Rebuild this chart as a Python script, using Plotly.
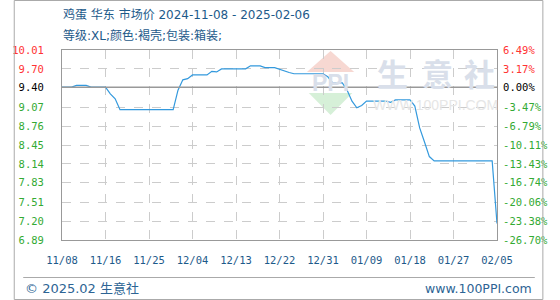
import pandas as pd
import plotly.graph_objects as go

# ---- data ----
dates = ["2024-11-08", "2024-11-10", "2024-11-11", "2024-11-13", "2024-11-14", "2024-11-17",
         "2024-11-18", "2024-11-19", "2024-11-20", "2024-12-01", "2024-12-02", "2024-12-03",
         "2024-12-04", "2024-12-05", "2024-12-08", "2024-12-09", "2024-12-10", "2024-12-11",
         "2024-12-16", "2024-12-17", "2024-12-19", "2024-12-20", "2024-12-22", "2024-12-24",
         "2024-12-25", "2024-12-26", "2025-01-01", "2025-01-02", "2025-01-03", "2025-01-05",
         "2025-01-06", "2025-01-07", "2025-01-08", "2025-01-09", "2025-01-10", "2025-01-14",
         "2025-01-15", "2025-01-16", "2025-01-19", "2025-01-20", "2025-01-21", "2025-01-22",
         "2025-01-23", "2025-01-24", "2025-02-05", "2025-02-06"]
prices = [9.40, 9.40, 9.43, 9.43, 9.40, 9.40,
          9.29, 9.21, 9.03, 9.03, 9.35, 9.52,
          9.54, 9.60, 9.60, 9.66, 9.65, 9.70,
          9.70, 9.75, 9.75, 9.72, 9.72, 9.66,
          9.64, 9.62, 9.62, 9.57, 9.47, 9.47,
          9.35, 9.17, 9.06, 9.10, 9.17, 9.17,
          9.15, 9.19, 9.19, 9.09, 8.73, 8.50,
          8.26, 8.19, 8.19, 7.16]

x_tick_labels = ["11/08", "11/16", "11/25", "12/04", "12/13", "12/22",
                 "12/31", "01/09", "01/18", "01/27", "02/05"]
left_tick_labels = ["10.01", "9.70", "9.40", "9.07", "8.76", "8.45",
                    "8.14", "7.83", "7.51", "7.20", "6.89"]
right_tick_labels = ["6.49%", "3.17%", "0.00%", "-3.47%", "-6.79%", "-10.11%",
                     "-13.43%", "-16.74%", "-20.06%", "-23.38%", "-26.70%"]
base_price = 9.40

title1 = "鸡蛋 华东 市场价 2024-11-08 - 2025-02-06"
title2 = "等级:XL;颜色:褐壳;包装:箱装;"
footer_left = "© 2025.02 生意社"
footer_right = "www.100PPI.com"

# ---- layout geometry ----
W, H = 560, 300
L, R, T, B = 51, 49, 50, 60
PW, PH = W - L - R, H - T - B

def px(x):
    return (x - L) / PW

def py(y):
    return (H - B - y) / PH

RED, GREEN, BLACK = "#ff3333", "#33aa33", "#000000"
BLUE_TXT = "#1d5a8a"
TXT_FONT = "DejaVu Sans, Noto Sans CJK SC"

x_dates = pd.to_datetime(dates)
start = pd.Timestamp("2024-11-08")
end = pd.Timestamp("2025-02-06")
n_int = len(x_tick_labels) - 1
x_tickvals = [start + (end - start) * i / n_int for i in range(len(x_tick_labels))]

left_vals = [float(v) for v in left_tick_labels]

def colored(labels, vals):
    out = []
    for t, v in zip(labels, vals):
        c = RED if v > base_price + 1e-9 else (BLACK if abs(v - base_price) < 1e-9 else GREEN)
        out.append(f"<span style='color:{c}'>{t}</span>")
    return out

fig = go.Figure()
fig.add_trace(go.Scatter(x=x_dates, y=prices, mode="lines",
                         line=dict(color="#3399dd", width=1.2),
                         hoverinfo="skip", showlegend=False))
# invisible trace to activate the right axis
fig.add_trace(go.Scatter(x=[x_dates[0]], y=[prices[0]], yaxis="y2", mode="lines",
                         line=dict(width=0), hoverinfo="skip", showlegend=False))

mono = "DejaVu Sans Mono"
fig.update_layout(
    width=W, height=H,
    margin=dict(l=L, r=R, t=T, b=B, pad=0),
    paper_bgcolor="white", plot_bgcolor="white",
    xaxis=dict(range=[start, end], tickmode="array", tickvals=x_tickvals, ticktext=x_tick_labels,
               showgrid=True, gridcolor="#cccccc", griddash="dash", gridwidth=1,
               showline=True, linecolor="#999999", linewidth=1, mirror=True,
               ticks="outside", ticklen=10, tickcolor="rgba(0,0,0,0)",
               tickfont=dict(family=mono, size=10.5, color=BLUE_TXT), zeroline=False),
    yaxis=dict(range=[6.89, 10.01], tickmode="array", tickvals=left_vals,
               ticktext=colored(left_tick_labels, left_vals),
               showgrid=True, gridcolor="#cccccc", griddash="dash", gridwidth=1,
               showline=True, linecolor="#999999", linewidth=1, mirror=True,
               ticks="outside", ticklen=15, tickcolor="rgba(0,0,0,0)",
               tickfont=dict(family=mono, size=10.5, color=GREEN), zeroline=False),
    yaxis2=dict(range=[6.89, 10.01], overlaying="y", side="right", tickmode="array",
                tickvals=left_vals, ticktext=colored(right_tick_labels, left_vals),
                showgrid=False, showline=False, zeroline=False,
                ticks="outside", ticklen=3, tickcolor="rgba(0,0,0,0)",
                tickfont=dict(family=mono, size=10.5, color=GREEN)),
)

# baseline
fig.add_shape(type="line", xref="paper", yref="y", x0=0, x1=1, y0=base_price, y1=base_price,
              line=dict(color="#999999", width=1.5), layer="above")

# watermark logo
fig.add_shape(type="path", xref="paper", yref="paper", layer="below",
              path=f"M {px(335)} {py(51)} L {px(360)} {py(72)} L {px(310)} {py(72)} Z",
              fillcolor="#f7d8d2", line=dict(width=0))
fig.add_shape(type="path", xref="paper", yref="paper", layer="below",
              path=f"M {px(312)} {py(93)} L {px(358)} {py(93)} L {px(335)} {py(115)} Z",
              fillcolor="#d6f0d8", line=dict(width=0))
fig.add_annotation(x=px(335), y=py(83), xref="paper", yref="paper", text="<b>PPI</b>",
                   xanchor="center", yanchor="middle",
                   showarrow=False, font=dict(family="Liberation Sans", size=23, color="#d9dfea"))
for ch, cx in zip("生意社", [401, 448, 492]):
    fig.add_annotation(x=px(cx), y=py(72), xref="paper", yref="paper", text=f"<b>{ch}</b>",
                       xanchor="center", yanchor="middle",
                       showarrow=False, font=dict(family="Noto Sans CJK SC", size=31, color="#d9dfea"))
fig.add_annotation(x=px(446), y=py(105), xref="paper", yref="paper", text="WWW.100PPI.COM",
                   xanchor="center", yanchor="middle",
                   showarrow=False, font=dict(family="Liberation Sans", size=14, color="#e6e6e6"))

# titles
fig.add_annotation(x=px(50), y=py(14), xref="paper", yref="paper", xanchor="left", yanchor="middle",
                   text=title1, showarrow=False,
                   font=dict(family=TXT_FONT, size=12, color=BLUE_TXT))
fig.add_annotation(x=px(50), y=py(35), xref="paper", yref="paper", xanchor="left", yanchor="middle",
                   text=title2, showarrow=False,
                   font=dict(family=TXT_FONT, size=12, color=BLUE_TXT))

# footer
fig.add_shape(type="line", xref="paper", yref="paper", x0=px(10), x1=px(551), y0=py(277.5), y1=py(277.5),
              line=dict(color="#aaaaaa", width=1))
fig.add_annotation(x=px(10), y=py(288), xref="paper", yref="paper", xanchor="left", yanchor="middle",
                   text=footer_left, showarrow=False,
                   font=dict(family=TXT_FONT, size=13, color="#2d6494"))
fig.add_annotation(x=px(550), y=py(288), xref="paper", yref="paper", xanchor="right", yanchor="middle",
                   text=footer_right, showarrow=False,
                   font=dict(family="DejaVu Sans", size=12.5, color="#2d6494"))

# outer frame
fig.add_shape(type="rect", xref="paper", yref="paper", x0=px(0.5), x1=px(559.5), y0=py(299.5), y1=py(0.5),
              line=dict(color="#aaaaaa", width=1), fillcolor="rgba(0,0,0,0)")

fig.write_html("out.html")
